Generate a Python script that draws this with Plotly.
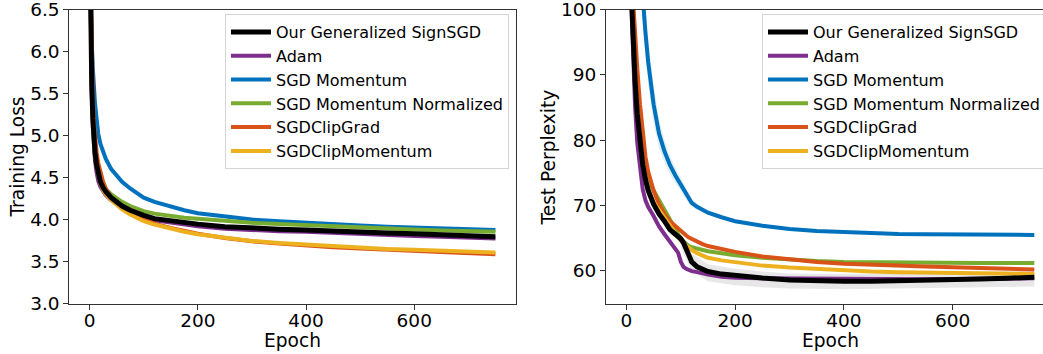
import plotly.graph_objects as go

# ---------------- data ----------------
SERIES = ["Our Generalized SignSGD", "Adam", "SGD Momentum",
          "SGD Momentum Normalized", "SGDClipGrad", "SGDClipMomentum"]
COLORS = ["#000000", "#7E2F8E", "#0072BD", "#77AC30", "#D95319", "#EDB120"]

# Training loss (left panel)
EPOCHS_LOSS = [0, 2, 4, 6, 8, 10, 13, 16, 20, 25, 30, 40, 50, 60, 75, 90, 100,
               120, 150, 175, 200, 250, 300, 350, 400, 450, 500, 550, 600, 650, 700, 750]
LOSS_SIGNSGD = [7.6, 6.3, 5.6, 5.2, 4.95, 4.8, 4.65, 4.53, 4.45, 4.38, 4.33, 4.26, 4.2, 4.16,
                4.11, 4.07, 4.05, 4.01, 3.98, 3.96, 3.945, 3.915, 3.895, 3.885, 3.875, 3.86,
                3.85, 3.84, 3.83, 3.815, 3.805, 3.795]
LOSS_ADAM = [7.6, 6.2, 5.5, 5.1, 4.85, 4.7, 4.56, 4.46, 4.39, 4.33, 4.29, 4.23, 4.18, 4.14,
             4.09, 4.05, 4.03, 3.99, 3.96, 3.94, 3.92, 3.89, 3.87, 3.86, 3.855, 3.84,
             3.83, 3.815, 3.805, 3.795, 3.785, 3.775]
LOSS_SGDM = [7.6, 6.6, 6.1, 5.8, 5.55, 5.38, 5.2, 5.02, 4.9, 4.8, 4.72, 4.6, 4.52, 4.45,
             4.37, 4.3, 4.26, 4.21, 4.15, 4.11, 4.075, 4.035, 4.0, 3.98, 3.96, 3.945,
             3.93, 3.915, 3.905, 3.895, 3.885, 3.875]
LOSS_SGDM_NORM = [7.6, 6.3, 5.6, 5.2, 4.95, 4.8, 4.66, 4.55, 4.47, 4.4, 4.36, 4.3, 4.25, 4.21,
                  4.16, 4.12, 4.1, 4.07, 4.04, 4.02, 4.01, 3.98, 3.96, 3.945, 3.93, 3.915,
                  3.905, 3.895, 3.88, 3.87, 3.862, 3.855]
LOSS_CLIPGRAD = [7.6, 6.6, 5.9, 5.45, 5.15, 4.97, 4.8, 4.67, 4.56, 4.45, 4.37, 4.26, 4.19, 4.14,
                 4.08, 4.03, 4.0, 3.95, 3.9, 3.86, 3.83, 3.78, 3.74, 3.715, 3.69, 3.67,
                 3.655, 3.64, 3.627, 3.612, 3.598, 3.585]
LOSS_CLIPMOM = [7.6, 6.3, 5.6, 5.2, 4.95, 4.8, 4.64, 4.52, 4.43, 4.35, 4.3, 4.23, 4.17, 4.12,
                4.06, 4.01, 3.98, 3.94, 3.89, 3.855, 3.825, 3.78, 3.745, 3.72, 3.7, 3.68,
                3.665, 3.65, 3.64, 3.628, 3.618, 3.608]

# light band around SGD Momentum (left)
BAND_EPOCHS_LOSS = [6, 8, 10, 13, 16, 20, 25, 30, 40, 50, 60, 75, 100, 150]
LOSS_SGDM_LO = [5.7, 5.45, 5.28, 5.1, 4.94, 4.83, 4.74, 4.67, 4.56, 4.49, 4.42, 4.35, 4.24, 4.14]
LOSS_SGDM_HI = [5.9, 5.65, 5.48, 5.3, 5.1, 4.97, 4.86, 4.77, 4.64, 4.55, 4.48, 4.39, 4.28, 4.16]

# Test perplexity (right panel)
EPOCHS_PPL = [0, 3, 6, 8, 10, 13, 16, 20, 25, 30, 35, 40, 50, 60, 70, 80, 90, 95, 100, 105,
              110, 115, 120, 130, 140, 150, 175, 200, 250, 300, 350, 400, 450, 500, 550,
              600, 650, 700, 750]
PPL_SIGNSGD = [300, 170, 125, 110, 100.5, 94, 89, 84, 79.5, 76.3, 74, 72.3, 70.2, 68.7, 67.6,
               66.3, 65.6, 65.3, 64.9, 64.3, 63.2, 62.2, 61.4, 60.6, 60.2, 59.9, 59.5, 59.25,
               58.9, 58.6, 58.45, 58.4, 58.4, 58.45, 58.5, 58.6, 58.75, 58.88, 59.0]
PPL_ADAM = [300, 165, 122, 108, 99, 91, 85, 79.6, 75.5, 72.5, 70.8, 69.8, 68.4, 66.8, 65.6,
            64.4, 63.3, 62.8, 61.4, 60.6, 60.3, 60.1, 59.95, 59.8, 59.6, 59.45, 59.1, 58.95,
            58.85, 58.8, 58.75, 58.7, 58.7, 58.7, 58.7, 58.75, 58.8, 58.8, 58.85]
PPL_SGDM = [600, 400, 300, 250, 210, 170, 145, 125, 110, 102, 96.5, 92, 85.5, 81, 78.3, 76.2,
            74.6, 73.9, 73.2, 72.5, 71.8, 71.0, 70.4, 69.8, 69.3, 68.9, 68.2, 67.6, 66.9,
            66.4, 66.1, 65.9, 65.75, 65.65, 65.6, 65.55, 65.55, 65.5, 65.5]
PPL_SGDM_NORM = [300, 175, 128, 112, 102, 95, 90, 85, 80.5, 77.3, 75.2, 73.8, 72.3, 70.8, 69.1,
                 67.8, 66.1, 65.5, 64.9, 64.5, 64.1, 63.8, 63.6, 63.35, 63.15, 63.0, 62.7,
                 62.4, 62.0, 61.7, 61.5, 61.35, 61.3, 61.25, 61.2, 61.2, 61.2, 61.2, 61.2]
PPL_CLIPGRAD = [320, 200, 150, 125, 112, 100.5, 95.5, 91, 85.5, 81, 77.5, 75.2, 72.3, 70.2,
                68.7, 67.6, 66.8, 66.4, 66.0, 65.7, 65.4, 65.1, 64.9, 64.4, 64.1, 63.8, 63.3,
                62.9, 62.2, 61.7, 61.35, 61.1, 60.9, 60.75, 60.65, 60.55, 60.4, 60.3, 60.2]
PPL_CLIPMOM = [300, 172, 126, 111, 101, 94, 89, 84.3, 79.8, 76.6, 74.3, 72.6, 70.5, 69.3, 68.2,
               66.9, 65.6, 65.1, 64.6, 64.2, 63.8, 63.5, 63.2, 62.7, 62.3, 62.0, 61.6, 61.3,
               60.8, 60.5, 60.25, 60.05, 59.9, 59.8, 59.75, 59.7, 59.6, 59.55, 59.5]

# grey band around Our Generalized SignSGD (right)
BAND_EPOCHS_PPL = [100, 120, 150, 200, 250, 300, 400, 500, 600, 700, 750]
PPL_SIGNSGD_LO = [63.5, 60.0, 58.4, 57.8, 57.5, 57.3, 57.2, 57.3, 57.4, 57.5, 57.6]
PPL_SIGNSGD_HI = [66.0, 62.6, 61.0, 60.3, 59.9, 59.6, 59.5, 59.6, 59.7, 59.9, 60.0]
# light band around SGD Momentum (right)
BAND_EPOCHS_SGDM = [30, 40, 50, 60, 70, 80, 90, 100, 110, 120, 130, 150, 200]
PPL_SGDM_LO = [98, 88.5, 82.5, 78.8, 76.6, 74.8, 73.4, 72.1, 70.9, 69.8, 69.3, 68.6, 67.4]
PPL_SGDM_HI = [106, 95.5, 88.5, 83.2, 80.0, 77.6, 75.8, 74.3, 72.7, 71.0, 70.3, 69.2, 67.8]

LOSS_TICKS = [3.0, 3.5, 4.0, 4.5, 5.0, 5.5, 6.0, 6.5]
PPL_TICKS = [60, 70, 80, 90, 100]
EPOCH_TICKS = [0, 200, 400, 600]

# ---------------- figure ----------------
W, H = 1043, 354
FONT = "DejaVu Sans"


def px_x(p):
    return p / W


def px_y(p):
    return (H - p) / H


fig = go.Figure()

loss_series = [LOSS_SIGNSGD, LOSS_ADAM, LOSS_SGDM, LOSS_SGDM_NORM, LOSS_CLIPGRAD, LOSS_CLIPMOM]
ppl_series = [PPL_SIGNSGD, PPL_ADAM, PPL_SGDM, PPL_SGDM_NORM, PPL_CLIPGRAD, PPL_CLIPMOM]


def band(x, lo, hi, color, xa, ya):
    fig.add_trace(go.Scatter(x=x, y=hi, mode="lines", line=dict(width=0, color=color),
                             showlegend=False, hoverinfo="skip", xaxis=xa, yaxis=ya))
    fig.add_trace(go.Scatter(x=x, y=lo, mode="lines", line=dict(width=0, color=color),
                             fill="tonexty", fillcolor=color, showlegend=False,
                             hoverinfo="skip", xaxis=xa, yaxis=ya))


band(BAND_EPOCHS_LOSS, LOSS_SGDM_LO, LOSS_SGDM_HI, "rgba(0,114,189,0.12)", "x", "y")
band(BAND_EPOCHS_PPL, PPL_SIGNSGD_LO, PPL_SIGNSGD_HI, "rgba(120,120,120,0.18)", "x2", "y2")
band(BAND_EPOCHS_SGDM, PPL_SGDM_LO, PPL_SGDM_HI, "rgba(0,114,189,0.12)", "x2", "y2")

draw_order = [1, 2, 3, 4, 5, 0]
for panel, (ex, data, xa, ya, leg) in enumerate([
        (EPOCHS_LOSS, loss_series, "x", "y", "legend"),
        (EPOCHS_PPL, ppl_series, "x2", "y2", "legend2")]):
    for i in draw_order:
        fig.add_trace(go.Scatter(
            x=ex, y=data[i], mode="lines", name=SERIES[i],
            line=dict(color=COLORS[i], width=5 if i == 0 else 4),
            xaxis=xa, yaxis=ya, legend=leg, legendrank=i + 1,
            legendgroup=f"g{panel}_{i}"))

axis_common = dict(showgrid=False, zeroline=False, showline=True, linecolor="#333333",
                   linewidth=1, ticks="outside", ticklen=5, tickwidth=1, tickcolor="#333333",
                   automargin=False, ticklabeloverflow="allow",
                   tickfont=dict(family=FONT, size=18.5, color="#000000"))

xL0, xL1 = 69.3, 515.7
xR0 = 606.0
yT, yB = 9.5, 303.5

legend_common = dict(xanchor="left", yanchor="top",
                     bgcolor="rgba(255,255,255,0.85)", bordercolor="#d5d5d5", borderwidth=1,
                     font=dict(family=FONT, size=16, color="#000000"), tracegroupgap=0,
                     itemwidth=40, traceorder="normal")

fig.update_layout(
    width=W, height=H, margin=dict(l=0, r=0, t=0, b=0, autoexpand=False),
    paper_bgcolor="white", plot_bgcolor="white",
    xaxis=dict(domain=[px_x(xL0), px_x(xL1)], range=[-37.5, 787.5], tickvals=EPOCH_TICKS,
               mirror=True, anchor="y", ticklabelstandoff=-5, **axis_common),
    yaxis=dict(domain=[px_y(yB), px_y(yT)], range=[2.9999, 6.5001], tickvals=LOSS_TICKS,
               tickformat=".1f", mirror=True, anchor="x", **axis_common),
    xaxis2=dict(domain=[px_x(xR0), 1.0], range=[-37.5, (W - xR0) / 0.5439 - 37.5],
                tickvals=EPOCH_TICKS, mirror=True, anchor="y2", ticklabelstandoff=-5,
                **axis_common),
    yaxis2=dict(domain=[px_y(yB), px_y(yT)], range=[55, 100.001], tickvals=PPL_TICKS,
                mirror=False, anchor="x2", **axis_common),
    legend=dict(x=px_x(225), y=px_y(14), **legend_common),
    legend2=dict(x=px_x(762), y=px_y(14), **legend_common),
    annotations=[
        dict(text="Epoch", x=px_x((xL0 + xL1) / 2), y=px_y(340), xref="paper", yref="paper",
             showarrow=False, xanchor="center", yanchor="middle",
             font=dict(family=FONT, size=18.6, color="#000000")),
        dict(text="Epoch", x=px_x(830), y=px_y(340), xref="paper", yref="paper",
             showarrow=False, xanchor="center", yanchor="middle",
             font=dict(family=FONT, size=18.6, color="#000000")),
        dict(text="Training Loss", x=px_x(17), y=px_y(157.5), xref="paper", yref="paper",
             showarrow=False, xanchor="center", yanchor="middle", textangle=-90,
             font=dict(family=FONT, size=18.6, color="#000000")),
        dict(text="Test Perplexity", x=px_x(548), y=px_y(157.5), xref="paper", yref="paper",
             showarrow=False, xanchor="center", yanchor="middle", textangle=-90,
             font=dict(family=FONT, size=18.6, color="#000000")),
    ],
    showlegend=True,
)

fig.write_html("out.html", config={"displayModeBar": False},
               post_script="document.body.style.margin='0';document.body.style.overflow='hidden';")
